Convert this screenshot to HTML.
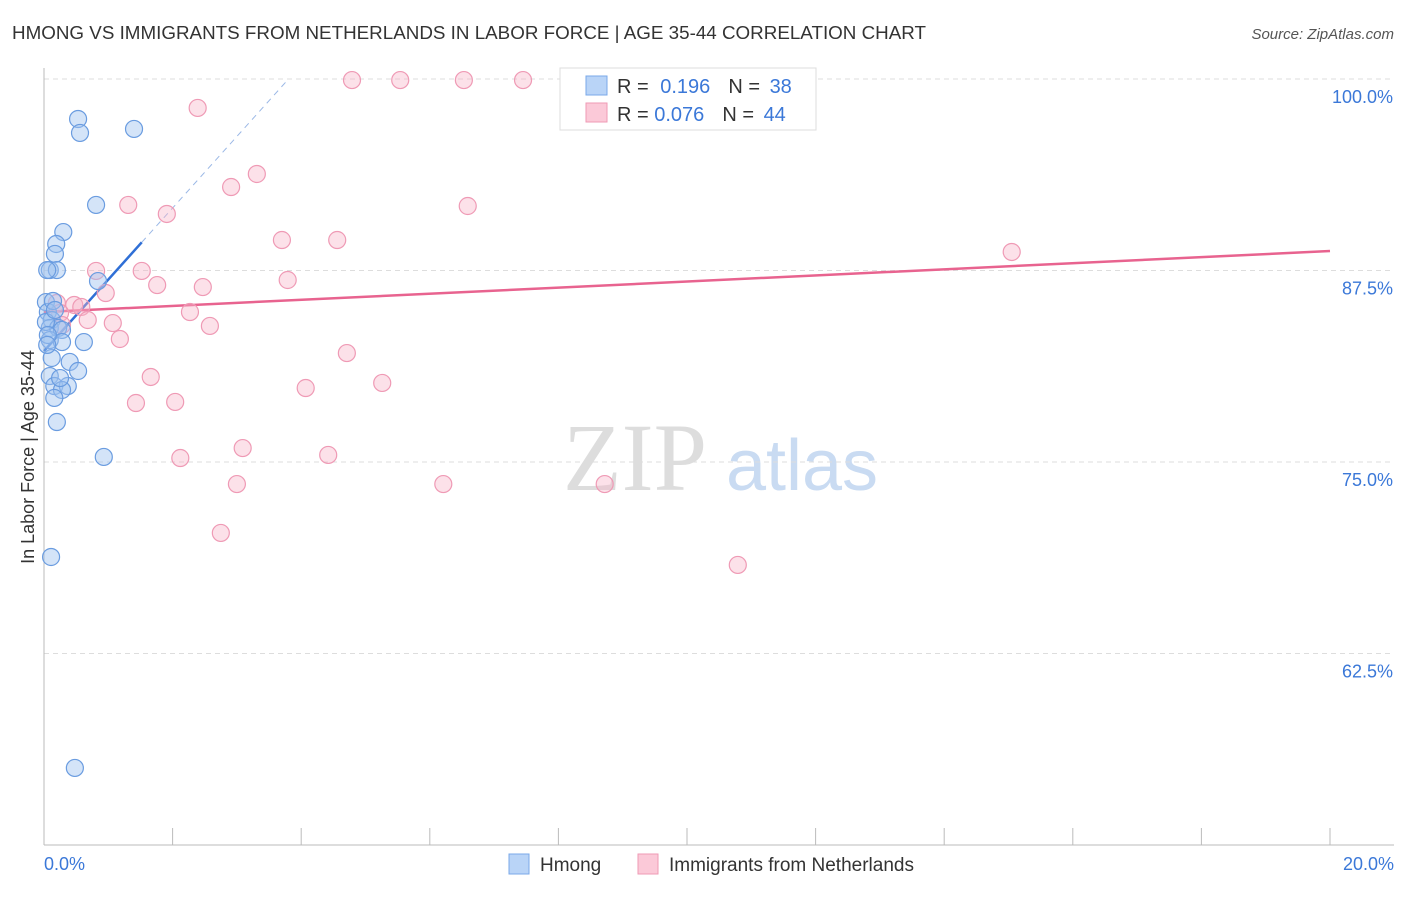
<!DOCTYPE html>
<html><head><meta charset="utf-8"><style>
body{margin:0;background:#fff;font-family:"Liberation Sans",sans-serif;}
</style></head><body>
<svg id="chart" width="1406" height="892" xmlns="http://www.w3.org/2000/svg" font-family="Liberation Sans, sans-serif">
<text x="12" y="39" font-size="18" fill="#333" textLength="914" lengthAdjust="spacingAndGlyphs">HMONG VS IMMIGRANTS FROM NETHERLANDS IN LABOR FORCE | AGE 35-44 CORRELATION CHART</text>
<text x="1394" y="39" font-size="15" fill="#555" text-anchor="end" font-style="italic">Source: ZipAtlas.com</text>
<text transform="translate(34,457) rotate(-90)" font-size="18" fill="#333" text-anchor="middle">In Labor Force | Age 35-44</text>
<g><text x="635" y="490" font-size="96" font-family="Liberation Serif, serif" fill="#ddd" text-anchor="middle">ZIP</text><text x="802" y="490" font-size="72" fill="#c9dbf2" text-anchor="middle">atlas</text></g>
<g id="grid"></g><g id="axes"></g><g id="trend"></g><g id="pts"></g>
<g>
<rect x="560" y="68" width="256" height="62" fill="#fff" stroke="#ddd"/>
<rect x="586" y="76" width="21" height="19" fill="#b9d4f7" stroke="#7aa8e8"/>
<rect x="586" y="103" width="21" height="19" fill="#fbc9d8" stroke="#ef9ab5"/>
<text x="617" y="93" font-size="20" fill="#333">R = <tspan fill="#3b78d8" dx="6">0.196</tspan><tspan dx="18" fill="#333">N = </tspan><tspan fill="#3b78d8" dx="4">38</tspan></text>
<text x="617" y="121" font-size="20" fill="#333">R = <tspan fill="#3b78d8">0.076</tspan><tspan dx="18" fill="#333">N = </tspan><tspan fill="#3b78d8" dx="4">44</tspan></text>
</g>
<g>
<rect x="509" y="854" width="20" height="20" fill="#b9d4f7" stroke="#7aa8e8"/>
<text x="540" y="871" font-size="19" fill="#333">Hmong</text>
<rect x="638" y="854" width="20" height="20" fill="#fbc9d8" stroke="#ef9ab5"/>
<text x="669" y="871" font-size="19" fill="#333">Immigrants from Netherlands</text>
</g>
</svg>
<script>
const yTicks=[100,87.5,75,62.5];
const yTickLabels=["100.0%","87.5%","75.0%","62.5%"];
const xLabels=["0.0%","20.0%"];
const hmongX=[0.53,0.56,1.40,0.81,0.30,0.19,0.17,0.09,0.20,0.84,0.03,0.06,0.12,0.09,0.22,0.28,0.09,0.28,0.62,0.12,0.40,0.53,0.09,0.16,0.37,0.28,0.16,0.20,0.93,0.11,0.48,0.03,0.06,0.14,0.05,0.17,0.25,0.05];
const hmongY=[97.39,96.48,96.74,91.78,90.01,89.23,88.58,87.53,87.53,86.81,85.44,84.79,84.27,83.75,83.75,83.62,82.96,82.83,82.83,81.79,81.53,80.94,80.61,79.96,79.96,79.70,79.18,77.61,75.33,68.80,55.03,84.14,83.29,85.51,82.64,84.92,80.48,87.53];
const nethX=[4.79,5.54,6.53,7.45,9.08,2.39,3.31,2.91,1.31,6.59,1.91,3.70,4.56,15.05,0.81,1.52,3.79,1.76,2.47,0.96,0.20,0.47,0.58,2.27,0.68,1.07,2.58,1.18,4.71,1.66,5.26,4.07,1.43,2.04,3.09,4.42,2.12,3.00,6.21,8.72,2.75,10.79,0.25,0.28];
const nethY=[99.93,99.93,99.93,99.93,99.93,98.11,93.80,92.95,91.78,91.71,91.19,89.49,89.49,88.71,87.47,87.47,86.88,86.55,86.42,86.03,85.38,85.25,85.12,84.79,84.27,84.07,83.88,83.03,82.11,80.55,80.16,79.83,78.85,78.92,75.91,75.46,75.26,73.56,73.56,73.56,70.37,68.28,84.73,83.94];
const hmongTrend=[82.24,4.67];
const nethTrend=[84.79,88.77];
const NS="http://www.w3.org/2000/svg";
const X0=44,X1=1330,YT=79,YB=845;
const sx=v=>X0+(v/20)*(X1-X0);
const sy=v=>YT+(100-v)/50*(YB-YT);
function mk(tag,attrs,parent){const e=document.createElementNS(NS,tag);for(const k in attrs)e.setAttribute(k,attrs[k]);document.getElementById(parent).appendChild(e);return e;}
yTicks.forEach((t,i)=>{
 const l=mk('line',{x1:X0,x2:1394,y1:sy(t),y2:sy(t),stroke:'#ddd','stroke-dasharray':'5,4'},'grid');
 
 
 const tx=mk('text',{x:1393,y:sy(t)+24,'font-size':18,fill:'#3b78d8','text-anchor':'end'},'grid');
 tx.textContent=yTickLabels[i];
 
 
});
const ax=mk('line',{x1:X0,x2:1394,y1:YB,y2:YB,stroke:'#bbb'},'axes');


const ay=mk('line',{x1:X0,x2:X0,y1:68,y2:YB,stroke:'#bbb'},'axes');


for(let i=0;i<=10;i++){
 const tk=mk('line',{x1:sx(i*2),x2:sx(i*2),y1:828,y2:YB,stroke:'#bbb'},'axes');
 
 
}
[[0,'start',X0],[20,'end',1394]].forEach((d,i)=>{
 const t=mk('text',{x:d[2],y:870,'font-size':18,fill:'#3b78d8','text-anchor':d[1]},'axes');
 t.textContent=xLabels[i];
 
 
});
function addPts(xs,ys,fill,stroke,name){
 xs.forEach((x,i)=>{
  const c=mk('circle',{cx:sx(x),cy:sy(ys[i]),r:8.5,fill:fill,stroke:stroke,'stroke-width':1.2},'pts');
  
  
 });
}
addPts(nethX,nethY,'rgba(248,180,200,0.4)','#ef9ab5','netherlands-point');
addPts(hmongX,hmongY,'rgba(160,196,240,0.45)','#6a9ce0','hmong-point');
const hEnd=1.52,hDash=(100-hmongTrend[0])/hmongTrend[1];
const hy=x=>hmongTrend[0]+hmongTrend[1]*x;
const t1=mk('line',{x1:sx(0),y1:sy(hy(0)),x2:sx(hEnd),y2:sy(hy(hEnd)),stroke:'#2f6fd6','stroke-width':2.5},'trend');


const t2=mk('line',{x1:sx(hEnd),y1:sy(hy(hEnd)),x2:sx(hDash),y2:sy(hy(hDash)),stroke:'#9bb8e6','stroke-width':1,'stroke-dasharray':'6,5'},'trend');


const t3=mk('line',{x1:sx(0),y1:sy(nethTrend[0]),x2:sx(20),y2:sy(nethTrend[1]),stroke:'#e8638f','stroke-width':2.5},'trend');


</script>
</body></html>
